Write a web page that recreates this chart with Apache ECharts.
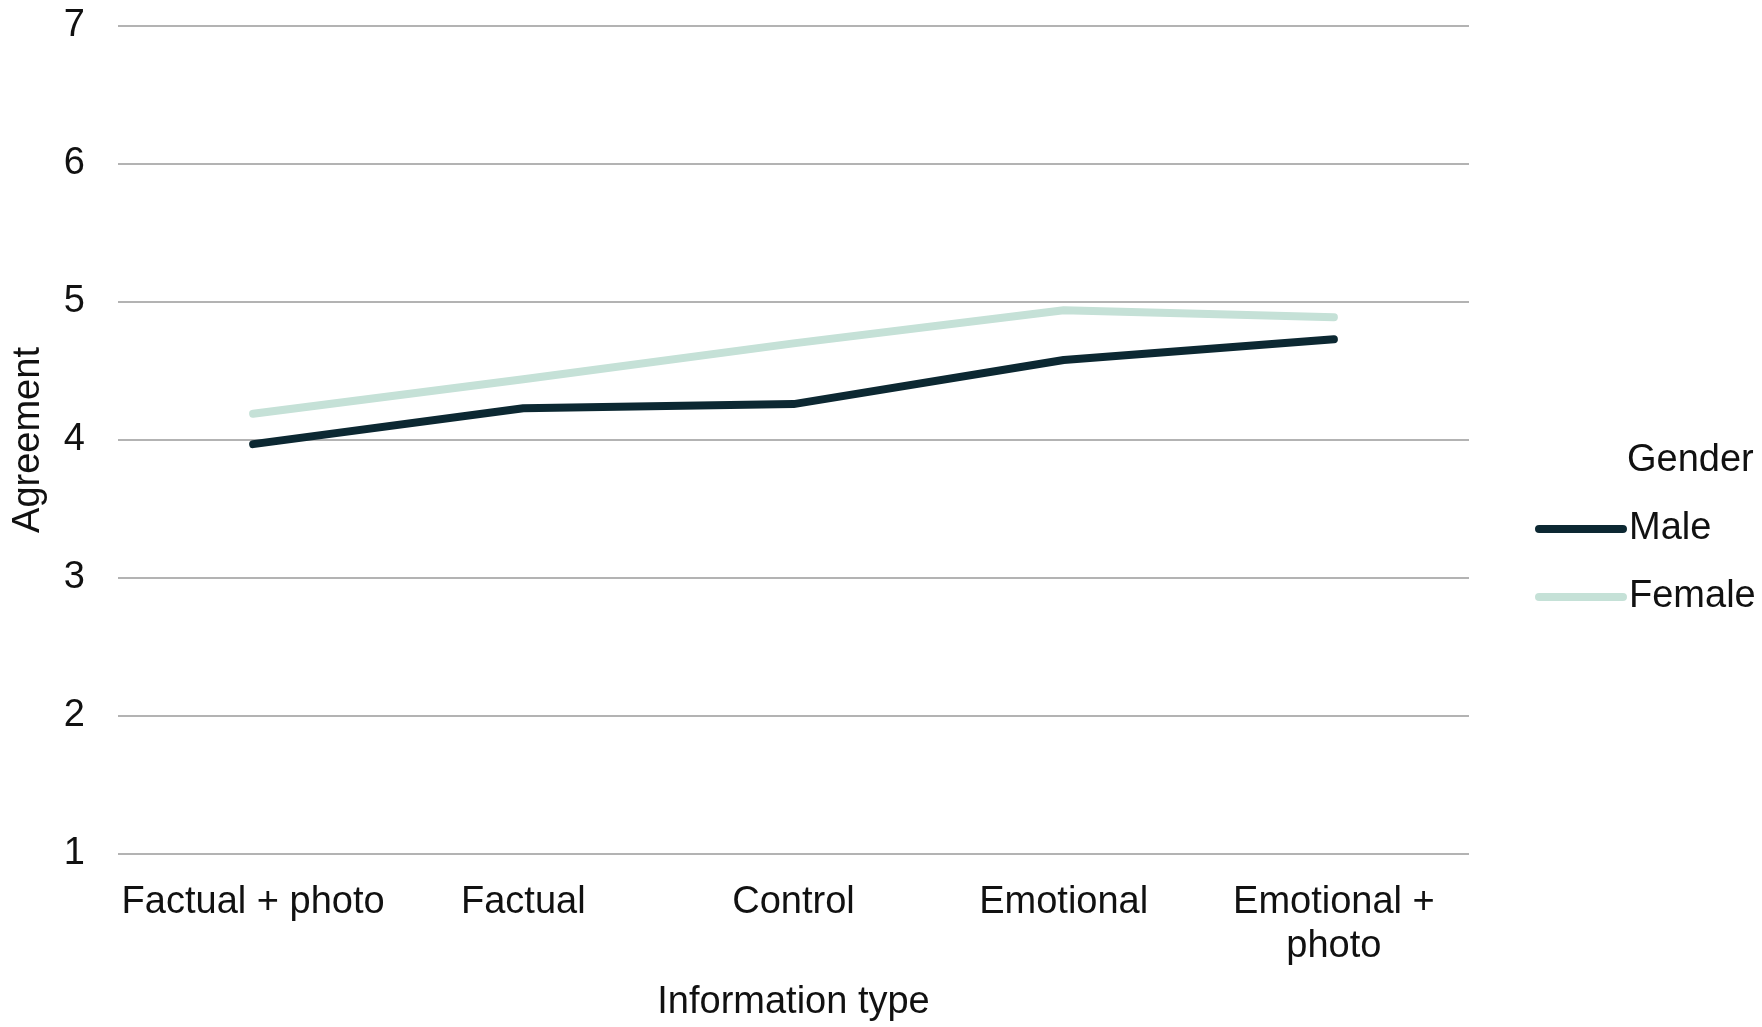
<!DOCTYPE html>
<html>
<head>
<meta charset="utf-8">
<script src="https://cdn.jsdelivr.net/npm/echarts@6/dist/echarts.min.js"></script>
<style>
  html, body { margin: 0; padding: 0; background: #ffffff; }
  #chart { width: 1762px; height: 1027px; }
</style>
</head>
<body>
<div id="chart"></div>
<script>
// Mean agreement by information type, split by gender
const categories = ['Factual + photo', 'Factual', 'Control', 'Emotional', 'Emotional +\nphoto'];
const maleValues = [3.97, 4.23, 4.26, 4.58, 4.73];
const femaleValues = [4.19, 4.44, 4.70, 4.94, 4.89];
const yTicks = [1, 2, 3, 4, 5, 6, 7];

const FONT = "'Liberation Sans', Arial, sans-serif";
const FS = 38;
const MALE_COLOR = '#0c2832';
const FEMALE_COLOR = '#c5e1d7';

const chart = echarts.init(document.getElementById('chart'), null, { renderer: 'canvas' });

const pill = 'path://M4,0 H86 A4,4 0 0 1 86,8 H4 A4,4 0 0 1 4,0 Z';

chart.setOption({
  backgroundColor: '#ffffff',
  animation: false,
  grid: { left: 118, right: 293, top: 26, bottom: 169 },
  xAxis: {
    type: 'category',
    data: categories,
    boundaryGap: true,
    name: 'Information type',
    nameLocation: 'middle',
    nameGap: 130,
    nameTextStyle: { fontFamily: FONT, fontSize: FS, color: '#111111' },
    axisLine: { show: false },
    axisTick: { show: false },
    axisLabel: {
      interval: 0,
      margin: 27,
      fontFamily: FONT,
      fontSize: FS,
      lineHeight: 44,
      color: '#111111',
      align: 'center'
    }
  },
  yAxis: {
    type: 'value',
    min: yTicks[0],
    max: yTicks[yTicks.length - 1],
    interval: 1,
    name: 'Agreement',
    nameLocation: 'middle',
    nameGap: 70,
    nameTextStyle: { fontFamily: FONT, fontSize: FS, color: '#111111' },
    axisLine: { show: false },
    axisTick: { show: false },
    axisLabel: { margin: 33, fontFamily: FONT, fontSize: FS, color: '#111111' },
    splitLine: { show: true, lineStyle: { color: '#b3b3b3', width: 2 } }
  },
  legend: {
    orient: 'vertical',
    left: 1530,
    top: 502,
    itemWidth: 92,
    itemHeight: 9,
    itemGap: 24,
    icon: pill,
    textStyle: { fontFamily: FONT, fontSize: FS, lineHeight: 44, color: '#111111', padding: [0, 0, 0, -3] },
    data: ['Male', 'Female']
  },
  graphic: [{
    type: 'text',
    left: 1627,
    top: 442,
    style: { text: 'Gender', fontFamily: FONT, fontSize: FS, fill: '#111111' }
  }],
  series: [
    {
      name: 'Male',
      type: 'line',
      data: maleValues,
      symbol: 'none',
      itemStyle: { color: MALE_COLOR },
      lineStyle: { color: MALE_COLOR, width: 8, cap: 'round', join: 'round' }
    },
    {
      name: 'Female',
      type: 'line',
      data: femaleValues,
      symbol: 'none',
      itemStyle: { color: FEMALE_COLOR },
      lineStyle: { color: FEMALE_COLOR, width: 8, cap: 'round', join: 'round' }
    }
  ]
});
</script>
</body>
</html>
